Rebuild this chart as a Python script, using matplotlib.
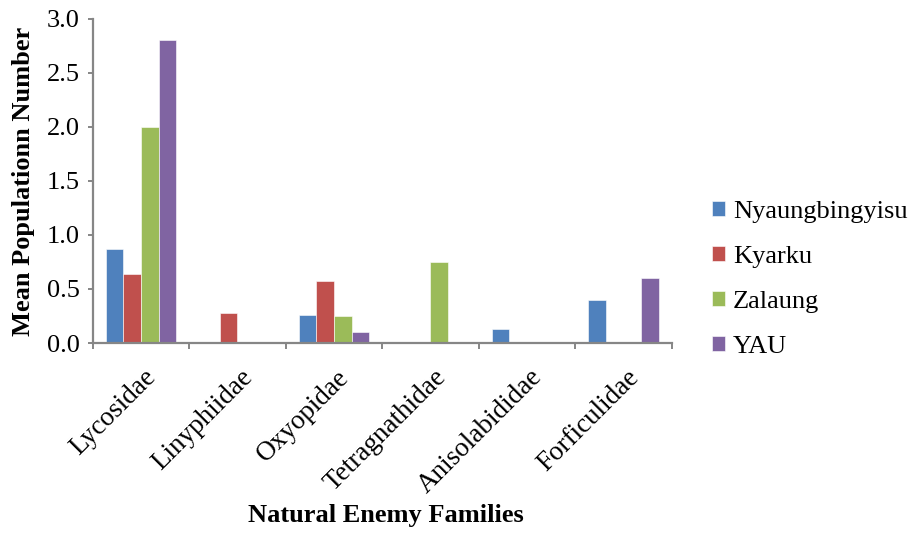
import matplotlib
matplotlib.use("Agg")
import matplotlib.pyplot as plt
import numpy as np

families = ["Lycosidae", "Linyphiidae", "Oxyopidae", "Tetragnathidae",
            "Anisolabididae", "Forficulidae"]
sites = ["Nyaungbingyisu", "Kyarku", "Zalaung", "YAU"]
nyaungbingyisu = [0.87, 0, 0.26, 0, 0.13, 0.40]
kyarku = [0.64, 0.28, 0.57, 0, 0, 0]
zalaung = [2.00, 0, 0.25, 0.75, 0, 0]
yau = [2.80, 0, 0.10, 0, 0, 0.60]
y_ticks = [0.0, 0.5, 1.0, 1.5, 2.0, 2.5, 3.0]

colors = ["#4F81BD", "#C0504D", "#9BBB59", "#8064A2"]
series = [nyaungbingyisu, kyarku, zalaung, yau]

FONT = "Liberation Serif"
FS = 19
plt.rcParams["font.family"] = "serif"
plt.rcParams["font.serif"] = [FONT, "DejaVu Serif"]

fig = plt.figure(figsize=(9.09, 5.36), dpi=100)
ax = fig.add_axes([0.102, 0.36, 0.637, 0.605])

x = np.arange(len(families))
width = 1 / 5.5
for i, (vals, name, c) in enumerate(zip(series, sites, colors)):
    offs = (i - 1.5) * width
    ax.bar(x + offs, vals, width, color=c, label=name,
           edgecolor="white", linewidth=0.4)

ax.set_xlim(-0.5, len(families) - 0.5)
ax.set_ylim(0, 3.0)
ax.set_yticks(y_ticks)
ax.set_yticklabels([f"{v:.1f}" for v in y_ticks], fontsize=FS, family=FONT)

# category ticks fall between groups
ax.set_xticks(np.arange(-0.5, len(families) + 0.5, 1))
ax.set_xticklabels([])
ax.tick_params(axis="x", length=4, color="#868686", width=1.4)
ax.tick_params(axis="y", length=3.5, color="#868686", width=1.4, pad=6)
for i, name in enumerate(families):
    ax.text(i + 0.03, -0.2, name, rotation=45, ha="right", va="top",
            rotation_mode="anchor", fontsize=FS + 0.5, family=FONT)

for side in ["top", "right"]:
    ax.spines[side].set_visible(False)
for side in ["left", "bottom"]:
    ax.spines[side].set_color("#868686")
    ax.spines[side].set_linewidth(1.6)

ax.set_ylabel("Mean Populationn Number", fontsize=FS, fontweight="bold",
              family=FONT, labelpad=8)
fig.text(0.424, 0.026, "Natural Enemy Families", fontsize=FS,
         fontweight="bold", family=FONT, ha="center", va="baseline")

leg = fig.legend(*ax.get_legend_handles_labels(), loc="center left",
                 bbox_to_anchor=(0.783, 0.479), frameon=False,
                 prop={"family": FONT, "size": FS}, handlelength=0.5,
                 handleheight=0.5, handletextpad=0.3, labelspacing=0.87,
                 borderpad=0, borderaxespad=0)

fig.savefig("out.png", dpi=100)
